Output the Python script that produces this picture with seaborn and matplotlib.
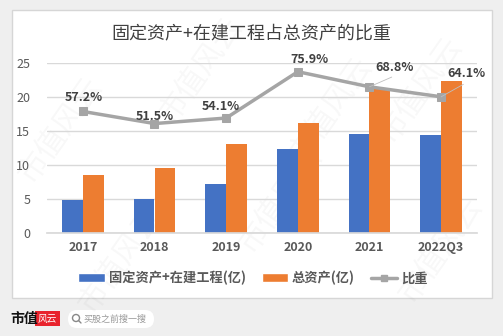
import matplotlib
matplotlib.use("Agg")
import matplotlib.pyplot as plt
from matplotlib.patches import FancyBboxPatch, Rectangle
from matplotlib.lines import Line2D
import seaborn as sns
import pandas as pd
import numpy as np

years = ["2017", "2018", "2019", "2020", "2021", "2022Q3"]
fixed_assets = [4.8, 5.0, 7.2, 12.3, 14.6, 14.4]
total_assets = [8.6, 9.5, 13.1, 16.2, 21.2, 22.4]
ratio = [0.572, 0.515, 0.541, 0.759, 0.688, 0.641]
ratio_labels = ["57.2%", "51.5%", "54.1%", "75.9%", "68.8%", "64.1%"]
series_names = ["固定资产+在建工程(亿)", "总资产(亿)", "比重"]
title = "固定资产+在建工程占总资产的比重"

sns.set_theme(style="white")
plt.rcParams['font.family'] = ['Noto Sans CJK SC', 'DejaVu Sans']

W, H = 503, 336
fig = plt.figure(figsize=(W / 100, H / 100), dpi=100)
fig.patch.set_facecolor("#efefef")

def px(x, y):
    return x / W, 1 - y / H

# white panel
bg = fig.add_axes([0, 0, 1, 1], zorder=-5)
bg.set_xlim(0, W); bg.set_ylim(H, 0); bg.axis("off")
bg.add_patch(Rectangle((12, 10), 480, 288, facecolor="white", edgecolor="#d6d6d6", lw=1))
# bottom strip
bg.text(10, 319, "市值", fontsize=10, fontweight="bold", color="#111111", va="center", ha="left")
bg.add_patch(Rectangle((35, 311), 25, 15, facecolor="#e8232d", edgecolor="none"))
bg.text(47.5, 318.5, "风云", fontsize=7, color="white", va="center", ha="center", style="italic")
bg.add_patch(FancyBboxPatch((68, 310), 86, 18, boxstyle="round,pad=0,rounding_size=9",
                            facecolor="white", edgecolor="none"))
bg.add_patch(plt.Circle((76, 318), 3.5, facecolor="none", edgecolor="#888888", lw=1))
bg.plot([78.5, 81], [320.5, 323], color="#888888", lw=1)
bg.text(84, 319, "买股之前搜一搜", fontsize=6.5, color="#999999", va="center", ha="left")

# watermarks
for (wx, wy) in [(60, 130), (200, 70), (420, 90), (120, 260), (280, 200), (440, 250), (330, 110)]:
    bg.text(wx, wy, "市值风云", fontsize=22, color="#000000", alpha=0.03, rotation=55,
            ha="center", va="center")

# main axes
left, bottom = px(47, 233)
_, top = px(0, 63)
ax = fig.add_axes([left, bottom, 430 / W, top - bottom])
df = pd.DataFrame({
    "year": years * 2,
    "value": fixed_assets + total_assets,
    "series": [series_names[0]] * len(years) + [series_names[1]] * len(years),
})
sns.barplot(data=df, x="year", y="value", hue="series", order=years,
            palette=["#4472c4", "#ed7d31"], width=0.58, ax=ax, legend=False,
            saturation=1, edgecolor="none")
ax.set_xlim(-0.5, len(years) - 0.5)
ax.set_ylim(0, 25)
ax.set_yticks([0, 5, 10, 15, 20, 25])
ax.grid(axis="y", color="#d9d9d9", lw=1)
ax.set_axisbelow(True)
for s in ["left", "right", "top"]:
    ax.spines[s].set_visible(False)
ax.spines["bottom"].set_color("#d9d9d9")
ax.set_xlabel(""); ax.set_ylabel("")
ax.tick_params(axis="y", length=0, labelsize=9, labelcolor="#595959", pad=12)
ax.tick_params(axis="x", length=0, labelsize=9, labelcolor="#595959", pad=6)
for t in ax.get_xticklabels():
    t.set_fontweight("bold")
ax.set_facecolor("none")

ax2 = ax.twinx()
xpos = np.arange(len(years))
sns.lineplot(x=xpos, y=ratio, ax=ax2, color="#a5a5a5", lw=2.5, marker="s",
             markersize=6, markeredgecolor="#a5a5a5", legend=False)
ax2.set_ylim(0, 0.8)
ax2.axis("off")

offsets = [(1, 10), (0, 5), (-4, 8), (8, 9), (18, 14), (18, 17)]
for i, (lab, (dx, dy)) in enumerate(zip(ratio_labels, offsets)):
    ax2.annotate(lab, (xpos[i], ratio[i]), xytext=(dx, dy), textcoords="offset points",
                 ha="center", va="center", fontsize=9, fontweight="bold", color="#404040")
for i, (dx, dy) in [(4, (16, 7)), (5, (16, 9))]:
    ax2.annotate("", (xpos[i], ratio[i]), xytext=(dx, dy), textcoords="offset points",
                 arrowprops=dict(arrowstyle="-", color="#bfbfbf", lw=0.6, shrinkA=0, shrinkB=0))

fig.text(0.5, px(0, 33)[1], title, fontsize=13, fontweight="medium", color="#404040",
         ha="center", va="center")

handles = [Rectangle((0, 0), 1, 1, facecolor="#4472c4"),
           Rectangle((0, 0), 1, 1, facecolor="#ed7d31"),
           Line2D([0], [0], color="#a5a5a5", lw=2.5, marker="s", markersize=5)]
leg = fig.legend(handles, series_names, loc="center", bbox_to_anchor=(px(253, 0)[0], px(0, 278)[1]),
                 ncol=3, frameon=False, fontsize=9.5, handlelength=2.0, handleheight=0.7,
                 columnspacing=1.2, handletextpad=0.3)
for t in leg.get_texts():
    t.set_color("#595959")
    t.set_fontweight("bold")

fig.savefig("out.png", dpi=100, facecolor=fig.get_facecolor())
